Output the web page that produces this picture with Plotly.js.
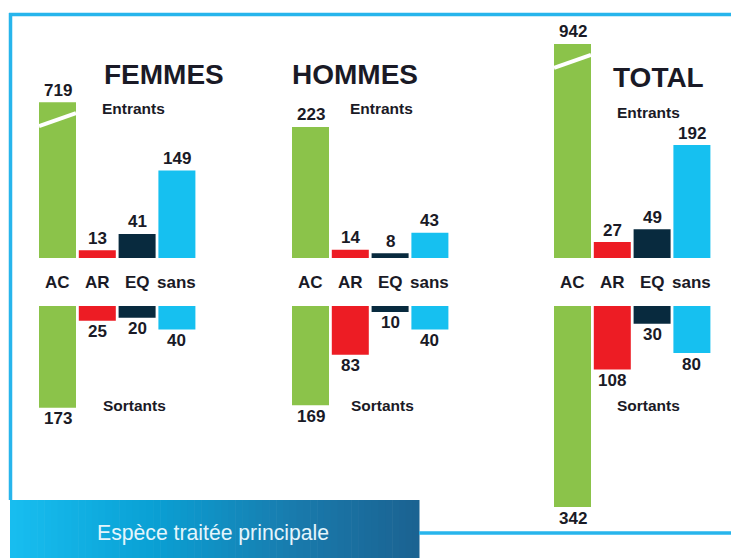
<!DOCTYPE html>
<html>
<head>
<meta charset="utf-8">
<script src="https://cdn.plot.ly/plotly-3.0.1.min.js"></script>
<style>html,body{margin:0;padding:0;background:#fff;}#chart{width:731px;height:558px;}</style>
</head>
<body>
<div id="chart"></div>
<script>
// ---------- DATA ----------
const groups = ['FEMMES', 'HOMMES', 'TOTAL'];
const categories = ['AC', 'AR', 'EQ', 'sans'];
const entrantsFemmes = [719, 13, 41, 149];
const entrantsHommes = [223, 14, 8, 43];
const entrantsTotal  = [942, 27, 49, 192];
const sortantsFemmes = [173, 25, 20, 40];
const sortantsHommes = [169, 83, 10, 40];
const sortantsTotal  = [342, 108, 30, 80];
const labelEntrants = 'Entrants';
const labelSortants = 'Sortants';
const bannerText = 'Espèce traitée principale';

// ---------- LAYOUT / STYLE ----------
const W = 731, H = 558;
const SCALE = 0.588;          // px per unit
const BASE_PX = 258;          // pixel row of the entrants baseline
const GAP = 48 / SCALE;       // gap between entrants baseline and sortants start
const BREAK_CAP = [265, null, 364]; // displayed height of broken bars (units)
const groupStart = [57.5, 310.5, 572.5];
const PITCH = 39.8, BAR_W = 37;
const colors = ['#8bc34a', '#ed1c24', '#082a3e', '#16c0f0'];
const textColor = '#1a1a26';
const frameColor = '#27b5ec';
const FONT_B = 'Liberation Sans, Arial, sans-serif';

const entrants = [entrantsFemmes, entrantsHommes, entrantsTotal];
const sortants = [sortantsFemmes, sortantsHommes, sortantsTotal];

const yTop = BASE_PX / SCALE;
const yBot = -(H - BASE_PX) / SCALE;
const px = x => x / W;
const py = y => 1 - y / H;

const traces = [];
const annotations = [];
const shapes = [];

groups.forEach((g, gi) => {
  const xs = categories.map((c, i) => groupStart[gi] + i * PITCH);
  const upShown = entrants[gi].map((v, i) => (i === 0 && BREAK_CAP[gi] !== null && v > BREAK_CAP[gi]) ? BREAK_CAP[gi] : v);
  traces.push({
    type: 'bar', x: xs, y: upShown, base: 0, width: BAR_W,
    marker: {color: colors, line: {width: 0}},
    hoverinfo: 'skip', showlegend: false
  });
  traces.push({
    type: 'bar', x: xs, y: sortants[gi].map(v => -v), base: xs.map(() => -GAP), width: BAR_W,
    marker: {color: colors, line: {width: 0}},
    hoverinfo: 'skip', showlegend: false
  });
  categories.forEach((c, i) => {
    annotations.push({x: xs[i], y: upShown[i], xref: 'x', yref: 'y', text: String(entrants[gi][i]),
      showarrow: false, xanchor: 'center', yanchor: 'middle', yshift: 12,
      font: {family: FONT_B, size: 17, color: textColor, weight: 'bold'}});
    annotations.push({x: xs[i], y: -GAP - sortants[gi][i], xref: 'x', yref: 'y', text: String(sortants[gi][i]),
      showarrow: false, xanchor: 'center', yanchor: 'middle', yshift: -11,
      font: {family: FONT_B, size: 17, color: textColor, weight: 'bold'}});
    annotations.push({x: xs[i], y: -GAP / 2, xref: 'x', yref: 'y', text: c,
      showarrow: false, xanchor: 'center', yanchor: 'middle',
      font: {family: FONT_B, size: 17, color: textColor, weight: 'bold'}});
    if (upShown[i] !== entrants[gi][i]) {
      shapes.push({type: 'line', xref: 'x', yref: 'y',
        x0: xs[i] - BAR_W / 2, x1: xs[i] + BAR_W / 2,
        y0: upShown[i] - 24 / SCALE, y1: upShown[i] - 11 / SCALE,
        line: {color: '#ffffff', width: 4}});
    }
  });
});

const titlePos = [[163.5, 74], [354.5, 74], [658, 77.5]];
const entPos = [[133.5, 108.5], [381.5, 108.5], [648.5, 112]];
const sorPos = [[134, 405], [382, 405], [648.5, 405]];
groups.forEach((g, gi) => {
  annotations.push({x: px(titlePos[gi][0]), y: py(titlePos[gi][1]), xref: 'paper', yref: 'paper', text: g,
    showarrow: false, xanchor: 'center', yanchor: 'middle',
    font: {family: FONT_B, size: 28, color: textColor, weight: 'bold'}});
  annotations.push({x: px(entPos[gi][0]), y: py(entPos[gi][1]), xref: 'paper', yref: 'paper', text: labelEntrants,
    showarrow: false, xanchor: 'center', yanchor: 'middle',
    font: {family: FONT_B, size: 15.5, color: textColor, weight: 'bold'}});
  annotations.push({x: px(sorPos[gi][0]), y: py(sorPos[gi][1]), xref: 'paper', yref: 'paper', text: labelSortants,
    showarrow: false, xanchor: 'center', yanchor: 'middle',
    font: {family: FONT_B, size: 15.5, color: textColor, weight: 'bold'}});
});

// frame
shapes.push({type: 'line', xref: 'paper', yref: 'paper', x0: px(9), x1: px(735), y0: py(14.5), y1: py(14.5), line: {color: frameColor, width: 3.5}});
shapes.push({type: 'line', xref: 'paper', yref: 'paper', x0: px(10.5), x1: px(10.5), y0: py(13), y1: py(500), line: {color: frameColor, width: 3.5}});
shapes.push({type: 'line', xref: 'paper', yref: 'paper', x0: px(419), x1: px(735), y0: py(533), y1: py(533), line: {color: frameColor, width: 3.5}});

// banner gradient
const stops = [[0, [24, 190, 240]], [0.35, [10, 160, 212]], [0.7, [25, 122, 172]], [1, [27, 98, 145]]];
function gradColor(t) {
  for (let k = 0; k < stops.length - 1; k++) {
    const [t0, c0] = stops[k], [t1, c1] = stops[k + 1];
    if (t <= t1) {
      const f = (t - t0) / (t1 - t0);
      return 'rgb(' + c0.map((v, j) => Math.round(v + (c1[j] - v) * f)).join(',') + ')';
    }
  }
  return 'rgb(27,98,145)';
}
const BX0 = 10, BX1 = 419.5, BY0 = 500, BY1 = 560, N = 60;
for (let k = 0; k < N; k++) {
  const a = BX0 + (BX1 - BX0) * k / N, b = BX0 + (BX1 - BX0) * (k + 1) / N + 0.6;
  shapes.push({type: 'rect', xref: 'paper', yref: 'paper', x0: px(a), x1: px(Math.min(b, BX1)), y0: py(BY1), y1: py(BY0),
    fillcolor: gradColor((k + 0.5) / N), line: {width: 0}, layer: 'below'});
}
annotations.push({x: px(213), y: py(533), xref: 'paper', yref: 'paper', text: bannerText,
  showarrow: false, xanchor: 'center', yanchor: 'middle',
  font: {family: 'Liberation Sans, Arial, sans-serif', size: 21.2, color: '#e4f5fc'}});

const layout = {
  width: W, height: H,
  margin: {l: 0, r: 0, t: 0, b: 0},
  paper_bgcolor: '#ffffff', plot_bgcolor: 'rgba(0,0,0,0)',
  barmode: 'overlay',
  xaxis: {range: [0, W], visible: false, fixedrange: true},
  yaxis: {range: [yBot, yTop], visible: false, fixedrange: true},
  shapes: shapes,
  annotations: annotations,
  showlegend: false
};

Plotly.newPlot('chart', traces, layout, {staticPlot: true, displayModeBar: false});
</script>
</body>
</html>
